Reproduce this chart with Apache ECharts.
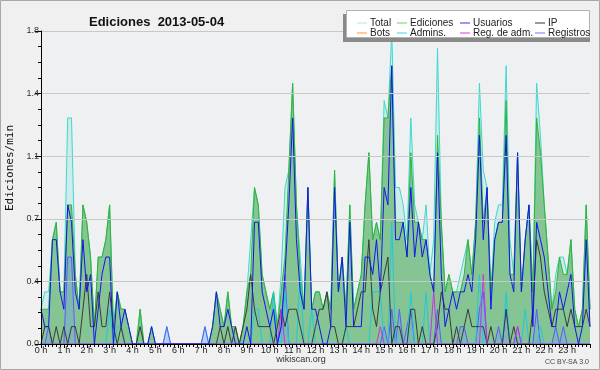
<!DOCTYPE html>
<html><head><meta charset="utf-8">
<script src="https://cdn.jsdelivr.net/npm/echarts@6/dist/echarts.min.js"></script>
<style>html,body{margin:0;padding:0;background:#f0f0f0}#c{width:600px;height:370px}</style>
</head><body><div id="c"></div>
<script>
// x index = 10-minute slot of the day (0..144); values = ediciones/min
const hourLabels = ['0 h','1 h','2 h','3 h','4 h','5 h','6 h','7 h','8 h','9 h','10 h','11 h','12 h','13 h','14 h','15 h','16 h','17 h','18 h','19 h','20 h','21 h','22 h','23 h'];
const yTickLabels = ['0.0','0.4','0.7','1.1','1.4','1.8'];

const total = [
0.2,0.3,0.3,0.6,0.7,0.3, 0.3,1.3,1.3,0.4,0.2,0.8, 0.7,0.5,0.1,0.5,0.5,0.6, 0.8,0.1,0.3,0.2,0.2,0.1,
0,0,0.2,0,0,0.1, 0,0,0,0.1,0,0, 0,0,0,0,0,0, 0,0.1,0,0.1,0.3,0.2,
0.1,0.3,0.1,0.1,0,0.1, 0.3,0.6,0.9,0.8,0.4,0.3, 0.2,0.3,0.1,0.4,0.9,1.0, 1.5,0.8,0.5,0.2,0.9,0.2,
0.3,0.3,0.2,0.3,0.2,1.0, 0.3,0.5,0.2,0.8,0.2,0.3, 0.4,0.8,1.1,0.6,0.7,0.6, 1.4,1.3,1.8,0.9,0.9,0.8,
0.6,1.3,0.8,0.7,0.6,0.8, 0.4,0.6,1.7,0.7,0.3,0.4, 0.3,0.3,0.4,0.5,0.6,0.4, 0.7,1.5,1.0,0.9,0.3,0.7,
0.8,0.8,1.6,0.6,0.4,1.1, 0.3,0.6,0.8,0.3,1.5,1.2, 0.8,0.5,0.2,0.4,0.5,0.5, 0.4,0.6,0.2,0.1,0.2,0.8,
0.2];
const ediciones = [
0.2,0.2,0.2,0.6,0.7,0.3, 0.3,0.8,0.8,0.4,0.2,0.8, 0.7,0.5,0.1,0.5,0.5,0.6, 0.8,0.1,0.3,0.2,0.2,0.1,
0,0,0.2,0,0,0.1, 0,0,0,0,0,0, 0,0,0,0,0,0, 0,0,0,0.1,0.3,0.2,
0.1,0.3,0.1,0.1,0,0.1, 0.3,0.4,0.9,0.8,0.4,0.3, 0.2,0.3,0.1,0.3,0.5,1.0, 1.5,0.8,0.4,0.2,0.9,0.2,
0.3,0.3,0.2,0.3,0.2,1.0, 0.3,0.5,0.2,0.8,0.2,0.3, 0.4,0.8,1.1,0.6,0.7,0.6, 1.3,1.3,1.6,0.7,0.7,0.7,
0.5,1.1,0.7,0.7,0.6,0.6, 0.4,0.3,1.2,0.7,0.3,0.4, 0.3,0.3,0.3,0.4,0.6,0.4, 0.7,1.3,0.7,0.9,0.3,0.6,
0.7,0.7,1.4,0.4,0.4,1.1, 0.3,0.6,0.8,0.3,1.3,1.1, 0.8,0.5,0.2,0.3,0.5,0.4, 0.4,0.6,0.2,0.1,0.2,0.8,
0.2];
const usuarios = [
0.2,0.1,0.1,0.6,0.6,0.3, 0.2,0.8,0.7,0.3,0.2,0.6, 0.3,0.4,0,0.2,0.4,0.5, 0.5,0,0.3,0.1,0.2,0.1,
0,0,0,0,0,0.1, 0,0,0,0,0,0, 0,0,0,0,0,0, 0,0,0,0.1,0.3,0.1,
0.1,0.2,0.1,0,0,0, 0.1,0,0.7,0.7,0.3,0.2, 0.1,0.2,0,0.1,0.4,0.8, 1.3,0.6,0.3,0.2,0.9,0.2,
0.2,0.1,0,0,0.1,0.9, 0.3,0.5,0.1,0.7,0.1,0.1, 0.1,0.5,0.5,0.4,0.6,0.3, 0.9,0.8,1.6,0.6,0.6,0.7,
0.5,0.9,0.5,0.7,0.5,0.6, 0.4,0.3,1.1,0.4,0.1,0.2, 0.3,0.2,0.3,0.3,0.4,0.3, 0.6,1.2,0.6,0.9,0.2,0.6,
0.7,0.7,1.2,0.4,0.3,1.1, 0.3,0.6,0.8,0.1,0.7,0.6, 0.5,0.3,0.1,0.1,0.3,0.2, 0.3,0.4,0.1,0,0.1,0.6,
0.1];
const ip = [
0,0.1,0.1,0,0.1,0, 0.1,0,0.1,0.1,0,0.2, 0.4,0.1,0.1,0.3,0.1,0.1, 0.3,0.1,0,0.1,0,0,
0,0,0.1,0,0,0, 0,0,0,0,0,0, 0,0,0,0,0,0, 0,0,0,0,0,0.1,
0,0.1,0,0.1,0,0.1, 0.2,0.4,0.2,0.1,0.1,0.1, 0.1,0,0.1,0.2,0.1,0.2, 0.2,0.2,0.1,0,0,0,
0.1,0.2,0.2,0.3,0.1,0.1, 0,0,0.1,0.1,0.1,0.2, 0.3,0.3,0.6,0.2,0.1,0.3, 0.4,0.5,0,0.1,0.1,0,
0,0.2,0.2,0,0.1,0, 0,0,0.1,0.3,0.2,0.2, 0,0.1,0,0.1,0.2,0.1, 0.1,0.1,0.1,0,0.1,0,
0,0,0.2,0,0.1,0, 0,0,0,0.2,0.6,0.5, 0.3,0.2,0.1,0.2,0.2,0.2, 0.1,0.2,0.1,0.1,0.1,0.2,
0.1];
const bots = [];
const admins = [
0,0,0,0,0,0, 0,0,0,0,0,0, 0,0,0,0,0,0, 0.2,0,0.1,0.1,0,0,
0,0,0,0,0,0, 0,0,0,0,0,0, 0,0,0,0,0,0, 0,0,0,0,0,0,
0,0,0,0,0,0, 0,0,0.2,0.2,0,0, 0,0.3,0,0,0.3,0, 0,0,0.4,0,0,0.2,
0,0,0,0,0,0, 0,0,0.1,0,0,0, 0,0,0,0.3,0.3,0.3, 0,0,0.7,0,0,0,
0,0.3,0,0,0,0.3, 0,0,0,0,0,0, 0,0,0,0,0,0, 0,0.4,0,0,0,0,
0,0,0.3,0,0,0, 0,0.2,0,0,0,0.1, 0,0,0,0,0,0, 0,0,0,0,0,0,
0];
const regAdm = [
0,0,0,0,0,0, 0,0,0,0,0,0, 0,0,0,0,0,0, 0,0,0,0,0,0,
0,0,0,0,0,0, 0,0,0,0,0,0, 0,0,0,0,0,0, 0,0,0,0,0,0,
0,0,0,0,0,0, 0,0,0,0,0,0, 0,0,0,0.2,0,0, 0,0,0,0,0,0,
0,0,0,0,0,0, 0,0,0,0,0,0, 0,0,0,0,0,0.1, 0,0,0,0,0,0,
0,0,0,0,0,0, 0,0.3,0,0,0,0, 0,0,0,0,0,0, 0,0,0.4,0,0,0,
0,0,0,0,0,0.1, 0,0,0,0,0,0, 0,0,0,0,0,0, 0,0,0,0,0,0,
0];
const registros = [
0,0,0.1,0,0,0, 0,0.5,0.5,0,0,0, 0,0,0,0,0,0, 0,0,0,0,0,0,
0,0,0,0,0,0, 0,0,0,0.1,0,0, 0,0,0,0,0,0, 0,0.1,0,0,0,0,
0,0,0,0,0,0, 0,0,0,0,0,0, 0,0,0,0.1,0.4,0, 0,0,0,0,0,0,
0,0,0,0,0,0, 0,0,0,0,0,0, 0,0,0,0,0,0, 0.1,0,0.2,0,0.2,0,
0.1,0.2,0,0,0,0, 0,0,0.2,0,0,0, 0,0,0.1,0.1,0,0, 0,0.2,0.3,0,0,0,
0.1,0,0.2,0,0,0.1, 0,0,0,0,0.2,0, 0,0,0,0.1,0,0.1, 0,0,0,0,0,0,
0];

const pts = a => a.map((v, i) => [i, v]);
const FONT = 'Liberation Sans';
function lineSeries(name, data, color, z, extra) {
  return Object.assign({
    name, type: 'line', data: pts(data), symbol: 'none', z,
    lineStyle: { color, width: 1 }, itemStyle: { color },
    emphasis: { disabled: true }, silent: true
  }, extra || {});
}
const legendBase = {
  orient: 'vertical', top: 13, itemGap: 0, itemWidth: 10, itemHeight: 1, icon: 'rect',
  textStyle: { fontFamily: FONT, fontSize: 10, color: '#222', lineHeight: 10, padding: [0, 0, 0, -2] },
  selectedMode: false, z: 100
};
const chart = echarts.init(document.getElementById('c'), null, { renderer: 'canvas' });
chart.setOption({
  animation: false,
  backgroundColor: '#f0f0f0',
  title: {
    text: 'Ediciones  2013-05-04', left: 84, top: 11,
    textStyle: { fontFamily: FONT, fontSize: 13, fontWeight: 'bold', color: '#111' }
  },
  legend: [
    Object.assign({}, legendBase, { left: 352, data: [{ name: 'Total', itemStyle: { color: '#a6ecea' } }, { name: 'Bots', itemStyle: { color: '#ff9a1a' } }] }),
    Object.assign({}, legendBase, { left: 392, data: [{ name: 'Ediciones', itemStyle: { color: '#6ccc6c' } }, { name: 'Admins.', itemStyle: { color: '#3cd0e0' } }] }),
    Object.assign({}, legendBase, { left: 455, data: [{ name: 'Usuarios', itemStyle: { color: '#3333ee' } }, { name: 'Reg. de adm.', itemStyle: { color: '#dd33ee' } }] }),
    Object.assign({}, legendBase, { left: 530, data: [{ name: 'IP', itemStyle: { color: '#333333' } }, { name: 'Registros', itemStyle: { color: '#7070ff' } }] })
  ],
  grid: { left: 41, right: 10, top: 31, bottom: 26, show: true, backgroundColor: '#eef0f2', borderWidth: 0 },
  xAxis: {
    type: 'value', min: 0, max: 144, interval: 6, z: 10,
    axisLine: { show: true, onZero: false, lineStyle: { color: '#000', width: 1 } },
    axisTick: { show: true, length: 4, lineStyle: { color: '#000' } },
    minorTick: { show: true, splitNumber: 6, length: 3, lineStyle: { color: '#000' } },
    splitLine: { show: false },
    axisLabel: {
      margin: 2, fontFamily: FONT, fontSize: 9, color: '#222', showMaxLabel: false,
      formatter: v => hourLabels[Math.round(v / 6)] || ''
    }
  },
  yAxis: {
    type: 'value', min: 0, max: 1.8, interval: 0.36, z: 10,
    axisLine: { show: true, lineStyle: { color: '#000', width: 1 } },
    axisTick: { show: true, length: 6, lineStyle: { color: '#000' } },
    minorTick: { show: true, splitNumber: 4, length: 3, lineStyle: { color: '#000' } },
    splitLine: { show: true, lineStyle: { color: '#c8c8c8', width: 1 } },
    axisLabel: {
      margin: 2, fontFamily: FONT, fontSize: 9, color: '#333',
      formatter: v => yTickLabels[Math.round(v / 0.36)]
    }
  },
  series: [
    lineSeries('Total', total, '#3ed8cc', 2, { areaStyle: { color: '#40e0d0', opacity: 0.18 } }),
    lineSeries('Ediciones', ediciones, '#36b236', 3, { areaStyle: { color: '#3a9e3a', opacity: 0.5 } }),
    lineSeries('Registros', registros, '#5a5aff', 4, { areaStyle: { color: '#6f9cff', opacity: 0.3 } }),
    lineSeries('Admins.', admins, '#22c8dc', 5),
    lineSeries('IP', ip, '#3a3a3a', 6),
    lineSeries('Reg. de adm.', regAdm, '#cc33dd', 7),
    lineSeries('Bots', bots, '#ff9a1a', 7),
    lineSeries('Usuarios', usuarios, '#1414ee', 8)
  ],
  graphic: [
    { type: 'rect', z: 0, silent: true, shape: { x: 0.5, y: 0.5, width: 599, height: 369 }, style: { fill: 'none', stroke: '#a8a8a8', lineWidth: 1 } },
    { type: 'rect', z: 80, silent: true, shape: { x: 343, y: 14, width: 247, height: 28 }, style: { fill: '#8a8a8a' } },
    { type: 'rect', z: 90, silent: true, shape: { x: 346.5, y: 10.5, width: 243, height: 27 }, style: { fill: '#ffffff', stroke: '#b0b0b0', lineWidth: 1 } },
    { type: 'text', z: 90, silent: true, x: 10, y: 168, rotation: Math.PI / 2,
      style: { text: 'Ediciones/min', fontFamily: 'DejaVu Sans Mono', fontSize: 11, fill: '#111', align: 'center', verticalAlign: 'middle' } },
    { type: 'text', z: 90, silent: true, x: 301, y: 360,
      style: { text: 'wikiscan.org', fontFamily: FONT, fontSize: 9, fill: '#333', align: 'center', verticalAlign: 'middle' } },
    { type: 'text', z: 90, silent: true, x: 589, y: 362,
      style: { text: 'CC BY-SA 3.0', fontFamily: FONT, fontSize: 7, fill: '#444', align: 'right', verticalAlign: 'middle' } }
  ]
});
</script></body></html>
